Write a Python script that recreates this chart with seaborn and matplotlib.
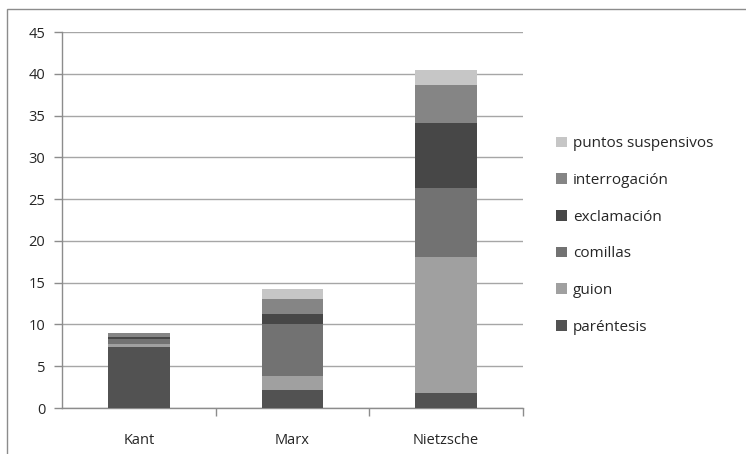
import matplotlib
matplotlib.use("Agg")
import matplotlib.pyplot as plt
from matplotlib.patches import Patch, Rectangle
import numpy as np
import pandas as pd
import seaborn as sns

authors = ["Kant", "Marx", "Nietzsche"]
series_names = ["paréntesis", "guion", "comillas", "exclamación", "interrogación", "puntos suspensivos"]
parentesis = [7.3, 2.1, 1.8]
guion = [0.4, 1.7, 16.3]
comillas = [0.6, 6.2, 8.2]
exclamacion = [0.2, 1.3, 7.85]
interrogacion = [0.5, 1.8, 4.5]
puntos = [0.0, 1.1, 1.8]
series_colors = ["#525252", "#a0a0a0", "#727272", "#474747", "#858585", "#c6c6c6"]
y_ticks = [0, 5, 10, 15, 20, 25, 30, 35, 40, 45]

values = [parentesis, guion, comillas, exclamacion, interrogacion, puntos]

sns.set_theme(style="white")
plt.rcParams["font.family"] = ["Open Sans", "DejaVu Sans"]

fig = plt.figure(figsize=(7.46, 4.54), dpi=100)
ax = fig.add_axes([0.0831, 0.1013, 0.7180 - 0.0831 - 0.017, 0.8282])

# stacked bars: draw cumulative totals from the top series down
cum = np.cumsum(np.array(values), axis=0)
for i in range(len(series_names) - 1, -1, -1):
    df = pd.DataFrame({"autor": authors, "total": cum[i]})
    sns.barplot(data=df, x="autor", y="total", color=series_colors[i],
                saturation=1, width=0.4, ax=ax, zorder=3, linewidth=0)

ax.set_ylim(0, 45)
ax.set_xlim(-0.5, 2.5)
ax.set_yticks(y_ticks)
ax.set_xlabel("")
ax.set_ylabel("")
ax.grid(axis="y", color="#a6a6a6", linewidth=1.0, zorder=0)
ax.grid(axis="x", visible=False)
for side in ["top", "right"]:
    ax.spines[side].set_visible(False)
for side in ["left", "bottom"]:
    ax.spines[side].set_color("#8c8c8c")
    ax.spines[side].set_linewidth(1.0)

ax.tick_params(axis="y", which="major", left=True, length=6, width=1,
               color="#8c8c8c", labelsize=10.5, labelcolor="#262626", pad=6)
ax.set_xticks([0, 1, 2])
ax.set_xticklabels(authors)
ax.tick_params(axis="x", which="major", bottom=False, labelsize=10.5,
               labelcolor="#262626", pad=12)
ax.set_xticks([0.5, 1.5, 2.5], minor=True)
ax.tick_params(axis="x", which="minor", bottom=True, length=6, width=1,
               color="#8c8c8c")

handles = [Patch(facecolor=c, edgecolor="none") for c in series_colors]
leg = fig.legend(handles[::-1], series_names[::-1],
                 loc="center left", bbox_to_anchor=(0.727, 0.481),
                 frameon=False, fontsize=11, labelspacing=1.42,
                 handlelength=0.7, handleheight=0.7, handletextpad=0.4)
for t in leg.get_texts():
    t.set_color("#262626")

# outer chart border
fig.patches.append(Rectangle((7 / 746, -0.1), 1.1, (454 - 9) / 454 + 0.1,
                             transform=fig.transFigure, fill=False,
                             edgecolor="#8c8c8c", linewidth=1.0))

fig.savefig("out.png", dpi=100, facecolor="white")
